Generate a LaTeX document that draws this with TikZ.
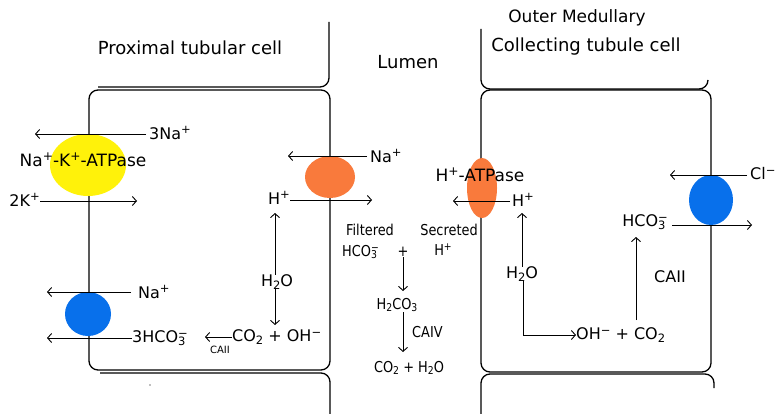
\documentclass[tikz,border=0pt]{standalone}
\usepackage{fontspec}
\setmainfont{DejaVu Sans}
\newfontfamily\midfont[FakeStretch=0.86]{DejaVu Sans}
\usepackage{graphicx}
\usetikzlibrary{arrows.meta,shapes.geometric}
\newcommand{\ionsb}[1]{\raisebox{-0.3ex}{\scalebox{0.72}{#1}}}
\newcommand{\ionsp}[1]{\raisebox{0.6ex}{\scalebox{0.72}{#1}}}
\newcommand{\ionbs}[2]{\rlap{\ionsb{#1}}\ionsp{#2}}
\definecolor{pyellow}{RGB}{255,242,10}
\definecolor{porange}{RGB}{249,122,60}
\definecolor{pblue}{RGB}{8,112,235}
\begin{document}
\begin{tikzpicture}[x=1pt,y=-1pt,
  wall/.style={line width=1.3pt, rounded corners=9pt},
  arr/.style={line width=0.9pt,-{Straight Barb[length=4pt,width=9pt]}},
  big/.style={inner sep=0pt, font=\fontsize{18}{20}\selectfont},
  lab/.style={inner sep=0pt, font=\fontsize{16}{18}\selectfont},
  mid/.style={inner sep=0pt, font=\midfont\fontsize{15}{16}\selectfont},
  atp/.style={inner sep=0pt, font=\fontsize{17}{19}\selectfont},
  tiny/.style={inner sep=0pt, font=\fontsize{10}{11}\selectfont},
  prot/.style={ellipse, draw=none, inner sep=0pt},
]
\useasboundingbox[fill=white] (0,0) rectangle (775,414);

% cell walls
\draw[wall] (329,22) -- (329,87) -- (98,87);
\draw[wall] (89,90) rectangle (330,370);
\draw[wall] (100,373) -- (330,373) -- (330,414);
\draw[wall] (481,29) -- (481,89) -- (708,89) -- (708,80);
\draw[wall] (481,90) rectangle (711,372);
\draw[wall] (481,414) -- (481,374) -- (714,374) -- (714,388);
\fill[gray] (150,385) circle (0.8pt);

% titles
\node[big] (tprox) at (190,48) {Proximal tubular cell};
\node[big] (tlum) at (408,62) {Lumen};
\node[inner sep=0pt, font=\fontsize{17}{19}\selectfont] (touter) at (577,18) {Outer Medullary};
\node[big] (tcoll) at (586,47) {Collecting tubule cell};

% ---- proximal cell ----
\node[prot, fill=pyellow, minimum width=76pt, minimum height=62pt] (nak) at (88,165) {};
\node[prot, fill=pblue, minimum width=46pt, minimum height=44pt] (nbc) at (88,314) {};
\node[prot, fill=porange, minimum width=50pt, minimum height=42pt] (nhe) at (330,177) {};

\node[lab, anchor=west] (na3) at (149,133) {3Na\ionsp{+}};
\coordinate (na3e) at (35,134);
\draw[arr] (146,134) -- (na3e);
\node[atp] (naklab) at (83,160) {Na\ionsp{+}-K\ionsp{+}-ATPase};
\node[lab, anchor=east] (k2) at (40,200) {2K\ionsp{+}};
\coordinate (k2e) at (137,201);
\draw[arr] (k2.east |- k2e) -- (k2e);

\node[lab, anchor=west] (naL) at (138,292) {Na\ionsp{+}};
\coordinate (naLe) at (47,292);
\draw[arr] (131,292) -- (naLe);
\node[lab, anchor=west] (hco3L) at (132,338) {3HCO\ionbs{3}{−}};
\coordinate (hco3Le) at (47,338);
\draw[arr] (hco3L.west |- hco3Le) -- (hco3Le);

\node[lab, anchor=west] (naR) at (370,156) {Na\ionsp{+}};
\coordinate (naRe) at (288,156);
\draw[arr] (367,156) -- (naRe);
\node[lab, anchor=east] (hpL) at (290,198) {H\ionsp{+}};
\coordinate (hpLe) at (372,200);
\draw[arr] (hpL.east |- hpLe) -- (hpLe);

\node[lab] (h2oL) at (277,282) {H\ionsb{2}O};
\coordinate (a1) at (275,213);
\draw[arr] (h2oL.north -| a1) -- (a1);
\coordinate (a2) at (275,325);
\draw[arr] (h2oL.south -| a2) -- (a2);
\node[lab, anchor=west] (co2L) at (232,337) {CO\ionsb{2} + OH\ionsp{−}};
\coordinate (a3) at (205,337);
\draw[arr] (co2L.west) -- (a3);
\node[tiny] (caiiL) at (220,350) {CAII};

% ---- lumen ----
\node[mid] (filt) at (370,230) {Filtered};
\node[mid, anchor=west] (hco3M) at (342,252) {HCO\ionbs{3}{−}};
\node[mid] (plus) at (403,252) {+};
\node[mid] (secr) at (449,230) {Secreted};
\node[mid] (hpM) at (443,250) {H\ionsp{+}};
\node[mid] (h2co3) at (397,305) {H\ionsb{2}CO\ionsb{3}};
\coordinate (b1) at (403,291);
\draw[arr] (plus.south -| b1) -- (b1);
\node[mid] (co2h2o) at (409,368) {CO\ionsb{2} + H\ionsb{2}O};
\coordinate (b2) at (403,352);
\draw[arr] (h2co3.south -| b2) -- (b2);
\node[mid, anchor=west] (caiv) at (412,332) {CAIV};

% ---- collecting tubule cell ----
\node[prot, fill=porange, minimum width=30pt, minimum height=60pt] (hatp) at (482,188) {};
\node[prot, fill=pblue, minimum width=44pt, minimum height=50pt] (ae) at (711,200) {};
\node[atp] (hatplab) at (480,175) {H\ionsp{+}-ATPase};
\node[lab, anchor=west] (hpR) at (512,200) {H\ionsp{+}};
\coordinate (hpRe) at (453,201);
\draw[arr] (510,201) -- (hpRe);
\node[lab] (h2oR) at (522,274) {H\ionsb{2}O};
\coordinate (c1) at (522,213);
\draw[arr] (h2oR.north -| c1) -- (c1);
\node[lab, anchor=west] (ohco2) at (576,335) {OH\ionsp{−} + CO\ionsb{2}};
\coordinate (c2) at (523,335);
\draw[arr] (h2oR.south -| c2) -- (c2) -- (ohco2.west);
\node[lab, anchor=east] (hco3R) at (668,222) {HCO\ionbs{3}{−}};
\coordinate (c3) at (636,320);
\coordinate (c4) at (636,237);
\draw[arr] (c3) -- (c4);
\coordinate (hco3Re) at (752,225);
\draw[arr] (672,225) -- (hco3Re);
\node[lab] (caiiR) at (670,277) {CAII};
\node[lab, anchor=west] (cl) at (750,174) {Cl\ionsp{−}};
\coordinate (cle) at (670,175);
\draw[arr] (747,175) -- (cle);
\end{tikzpicture}
\end{document}
